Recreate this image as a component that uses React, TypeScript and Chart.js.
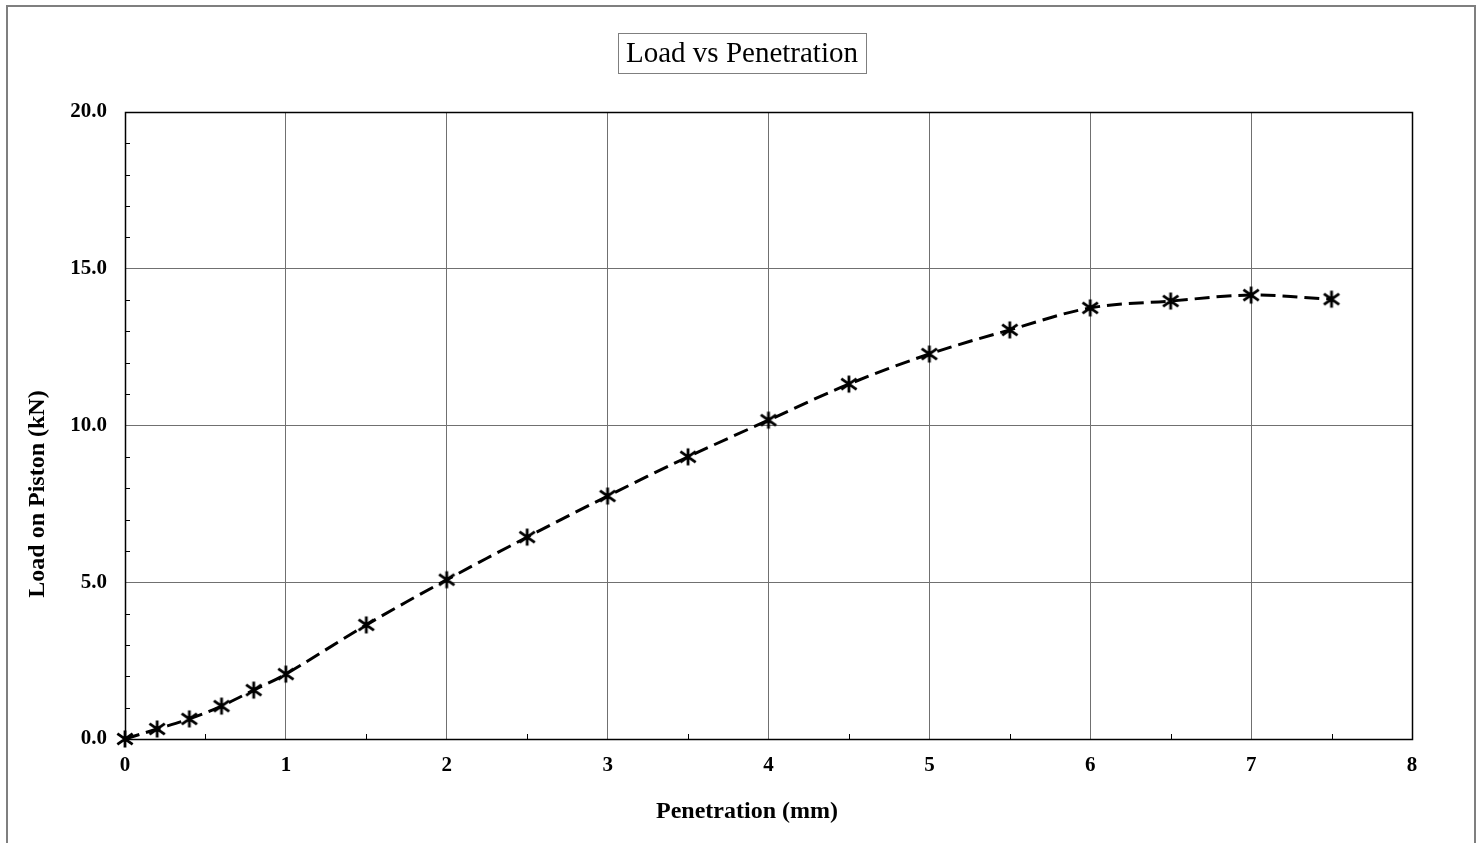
import React, { useEffect, useRef } from "react";
import { Chart, registerables } from "chart.js";

Chart.register(...registerables);

const penetration: number[] = [0, 0.2, 0.4, 0.6, 0.8, 1, 1.5, 2, 2.5, 3, 3.5, 4, 4.5, 5, 5.5, 6, 6.5, 7, 7.5];
const load: number[] = [0, 0.32, 0.64, 1.05, 1.56, 2.07, 3.64, 5.08, 6.44, 7.75, 9.0, 10.17, 11.32, 12.28, 13.05, 13.75, 13.97, 14.16, 14.03];
const xTicks: number[] = [0, 1, 2, 3, 4, 5, 6, 7, 8];
const yTicks: number[] = [0, 5, 10, 15, 20];
const chartTitle = "Load vs Penetration";
const xTitle = "Penetration (mm)";
const yTitle = "Load on Piston (kN)";

const SERIF = "'Liberation Serif', 'Times New Roman', serif";

function makeAsterisk(): HTMLCanvasElement {
  const c = document.createElement("canvas");
  const s = 20;
  c.width = s;
  c.height = s;
  const ctx = c.getContext("2d")!;
  ctx.strokeStyle = "#000";
  ctx.lineWidth = 2.8;
  const m = s / 2;
  const r = 8.5;
  ctx.beginPath();
  ctx.moveTo(m, m - r);
  ctx.lineTo(m, m + r);
  const d = r * 0.9;
  ctx.moveTo(m - d, m - d * 0.7);
  ctx.lineTo(m + d, m + d * 0.7);
  ctx.moveTo(m - d, m + d * 0.7);
  ctx.lineTo(m + d, m - d * 0.7);
  ctx.stroke();
  return c;
}

const decorPlugin = {
  id: "decor",
  beforeDraw(chart: any) {
    const ctx = chart.ctx;
    ctx.save();
    ctx.fillStyle = "#fff";
    ctx.fillRect(0, 0, chart.width, chart.height);
    ctx.restore();
  },
  beforeDatasetsDraw(chart: any) {
    const ctx = chart.ctx;
    const { left, right, top, bottom } = chart.chartArea;
    const xs = chart.scales.x;
    const ys = chart.scales.y;
    ctx.save();
    ctx.strokeStyle = "#000";
    ctx.lineWidth = 1.5;
    ctx.strokeRect(Math.round(left) + 0.5, Math.round(top) + 0.5, Math.round(right - left), Math.round(bottom - top));
    ctx.lineWidth = 1;
    ctx.beginPath();
    for (let v = 1; v < 20; v++) {
      if (v % 5 === 0) continue;
      const y = Math.round(ys.getPixelForValue(v)) + 0.5;
      ctx.moveTo(left, y);
      ctx.lineTo(left + 5, y);
    }
    for (let v = 0.5; v < 8; v += 1) {
      const x = Math.round(xs.getPixelForValue(v)) + 0.5;
      ctx.moveTo(x, bottom);
      ctx.lineTo(x, bottom - 5);
    }
    ctx.stroke();
    ctx.restore();
  },
  afterDraw(chart: any) {
    const ctx = chart.ctx;
    ctx.save();
    ctx.strokeStyle = "#7f7f7f";
    ctx.lineWidth = 2;
    ctx.strokeRect(7, 6, 1468, 900);
    ctx.font = `29px ${SERIF}`;
    ctx.textAlign = "center";
    ctx.textBaseline = "middle";
    ctx.fillStyle = "#000";
    const tw = ctx.measureText(chartTitle).width;
    const cx = 742;
    const cy = 54;
    ctx.strokeStyle = "#7f7f7f";
    ctx.lineWidth = 1;
    ctx.strokeRect(Math.round(cx - tw / 2 - 8) + 0.5, 33.5, Math.round(tw + 16), 40);
    ctx.fillText(chartTitle, cx, cy);
    ctx.font = `bold 24px ${SERIF}`;
    ctx.fillText(xTitle, 747, 812);
    ctx.translate(38, 494);
    ctx.rotate(-Math.PI / 2);
    ctx.fillText(yTitle, 0, 0);
    ctx.restore();
  },
};

export default function App() {
  const ref = useRef<HTMLCanvasElement | null>(null);
  useEffect(() => {
    document.body.style.margin = "0";
    const canvas = ref.current!;
    const marker = makeAsterisk();
    const chart = new Chart(canvas, {
      type: "scatter",
      data: {
        datasets: [
          {
            data: penetration.map((x, i) => ({ x, y: load[i] })),
            showLine: true,
            clip: false,
            borderColor: "#000",
            borderWidth: 3,
            borderDash: [15, 7],
            tension: 0.35,
            pointStyle: marker as any,
            pointRadius: 8,
            pointBackgroundColor: "#000",
            pointBorderColor: "#000",
          },
        ],
      },
      plugins: [decorPlugin],
      options: {
        responsive: false,
        animation: false,
        layout: { padding: { left: 0, right: 67, top: 112, bottom: 0 } },
        plugins: {
          legend: { display: false },
          tooltip: { enabled: false },
          title: { display: false },
        },
        scales: {
          x: {
            type: "linear",
            min: 0,
            max: 8,
            afterBuildTicks: (s: any) => {
              s.ticks = xTicks.map((v) => ({ value: v }));
            },
            afterFit: (s: any) => {
              s.height = 104;
            },
            grid: { color: "#707070", lineWidth: 1, drawTicks: false },
            border: { display: false },
            ticks: {
              padding: 14,
              color: "#000",
              font: { family: SERIF, size: 21, weight: "bold" },
              callback: (v: any) => String(v),
            },
          },
          y: {
            type: "linear",
            min: 0,
            max: 20,
            afterBuildTicks: (s: any) => {
              s.ticks = yTicks.map((v) => ({ value: v }));
            },
            afterFit: (s: any) => {
              s.width = 125;
            },
            grid: { color: "#707070", lineWidth: 1, drawTicks: false },
            border: { display: false },
            ticks: {
              padding: 18,
              color: "#000",
              font: { family: SERIF, size: 21, weight: "bold" },
              callback: (v: any) => Number(v).toFixed(1),
            },
          },
        },
      },
    } as any);
    return () => chart.destroy();
  }, []);
  return (
    <div style={{ position: "absolute", left: 0, top: 0, width: 1479, height: 843 }}>
      <canvas ref={ref} width={1479} height={843} style={{ display: "block" }} />
    </div>
  );
}
